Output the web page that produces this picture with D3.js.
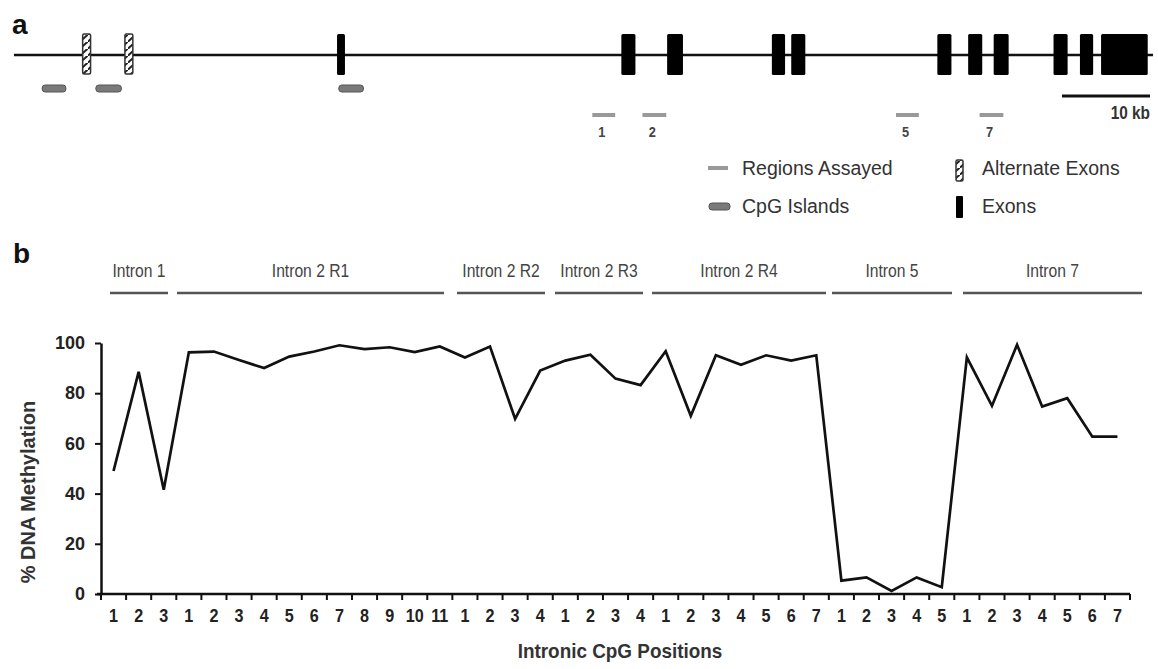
<!DOCTYPE html>
<html>
<head>
<meta charset="utf-8">
<script src="https://cdn.jsdelivr.net/npm/d3@7"></script>
<style>
  html, body { margin: 0; padding: 0; background: #fff; }
  svg { display: block; }
</style>
</head>
<body>
<svg id="chart" width="1158" height="669"></svg>
<script>
// ---------- DATA ----------
// Panel a: gene structure, genomic positions in kb from the left end of the gene line
const geneLength = 129.4;
const alternateExons = [[7.8, 8.7], [12.6, 13.5]];
const exons = [[36.7, 37.6], [69.0, 70.6], [74.2, 76.0], [86.1, 87.6], [88.3, 89.9],
               [104.9, 106.5], [108.4, 110.0], [111.3, 113.0], [118.1, 119.7],
               [121.1, 122.6], [123.5, 128.8]];
const cpgIslands = [[3.2, 5.9], [9.3, 12.2], [36.9, 39.7]];
const regionsAssayed = [[65.7, 68.3], [71.4, 74.1], [100.2, 102.8], [109.7, 112.4]];
const regionLabels = ["1", "2", "5", "7"];
const scaleBarKb = 10;
const scaleBarLabel = "10 kb";
const legendItems = ["Regions Assayed", "CpG Islands", "Alternate Exons", "Exons"];

// Panel b: methylation per intronic CpG position
const groupNames = ["Intron 1", "Intron 2 R1", "Intron 2 R2", "Intron 2 R3", "Intron 2 R4", "Intron 5", "Intron 7"];
const groupSizes = [3, 11, 4, 4, 7, 5, 7];
const tickLabels = ["1","2","3",
                    "1","2","3","4","5","6","7","8","9","10","11",
                    "1","2","3","4",
                    "1","2","3","4",
                    "1","2","3","4","5","6","7",
                    "1","2","3","4","5",
                    "1","2","3","4","5","6","7"];
const methylation = [49, 88.5, 41.5,
                     96.3, 96.6, 93.2, 90, 94.6, 96.6, 99.1, 97.6, 98.3, 96.4, 98.6,
                     94.2, 98.6, 69.8, 89,
                     93, 95.3, 85.8, 83.2,
                     96.7, 71, 95.1, 91.3, 95.1, 93, 95.1,
                     5.3, 6.6, 1.2, 6.6, 2.7,
                     94.3, 75, 99.3, 74.7, 78, 62.7, 62.7];
const yTicks = [0, 20, 40, 60, 80, 100];
const yTitle = "% DNA Methylation";
const xTitle = "Intronic CpG Positions";

// ---------- LAYOUT ----------
const headerSpans = [[110, 168], [177, 444], [457, 545], [555, 643], [652, 826], [832, 952], [963, 1142]];
const sans = "'Liberation Sans', Arial, sans-serif";

const svg = d3.select("#chart");
const defs = svg.append("defs");
const pat = defs.append("pattern")
  .attr("id", "hatch").attr("patternUnits", "userSpaceOnUse")
  .attr("width", 8).attr("height", 7);
pat.append("rect").attr("width", 8).attr("height", 7).attr("fill", "#fff");
pat.append("path").attr("d", "M-1,7.5 L9,-1.5").attr("stroke", "#222").attr("stroke-width", 2);

// ---------- PANEL A ----------
const gx = d3.scaleLinear().domain([0, geneLength]).range([14, 1153]);
const lineY = 55;
const a = svg.append("g");
a.append("text").attr("x", 12).attr("y", 34).text("a")
  .attr("font-family", sans).attr("font-weight", "bold").attr("font-size", 28).attr("fill", "#111");

a.append("line").attr("x1", gx(0)).attr("x2", gx(geneLength)).attr("y1", lineY).attr("y2", lineY)
  .attr("stroke", "#111").attr("stroke-width", 2.5);

a.selectAll("rect.alt").data(alternateExons).join("rect").attr("class", "alt")
  .attr("x", d => gx(d[0])).attr("width", d => gx(d[1]) - gx(d[0]))
  .attr("y", 34).attr("height", 40).attr("rx", 1.5)
  .attr("fill", "url(#hatch)").attr("stroke", "#333").attr("stroke-width", 1.5);

a.selectAll("rect.exon").data(exons).join("rect").attr("class", "exon")
  .attr("x", d => gx(d[0])).attr("width", d => gx(d[1]) - gx(d[0]))
  .attr("y", 34).attr("height", 41).attr("rx", 1.5).attr("fill", "#000");

a.selectAll("rect.cpg").data(cpgIslands).join("rect").attr("class", "cpg")
  .attr("x", d => gx(d[0])).attr("width", d => gx(d[1]) - gx(d[0]))
  .attr("y", 85).attr("height", 7).attr("rx", 3)
  .attr("fill", "#7a7a7a").attr("stroke", "#555").attr("stroke-width", 1);

a.selectAll("line.reg").data(regionsAssayed).join("line").attr("class", "reg")
  .attr("x1", d => gx(d[0])).attr("x2", d => gx(d[1])).attr("y1", 115).attr("y2", 115)
  .attr("stroke", "#999").attr("stroke-width", 4);

a.selectAll("text.reglab").data(regionsAssayed).join("text").attr("class", "reglab")
  .attr("transform", d => `translate(${gx((d[0] + d[1]) / 2) - 2},137) scale(0.85,1)`)
  .attr("text-anchor", "middle")
  .text((d, i) => regionLabels[i])
  .attr("font-family", sans).attr("font-weight", "bold").attr("font-size", 15).attr("fill", "#444");

const sbEnd = gx(geneLength) - 3;
const sbStart = sbEnd - (gx(scaleBarKb) - gx(0));
a.append("line").attr("x1", sbStart).attr("x2", sbEnd).attr("y1", 96).attr("y2", 96)
  .attr("stroke", "#111").attr("stroke-width", 3);
a.append("text").attr("transform", `translate(${sbEnd},119) scale(0.88,1)`)
  .attr("text-anchor", "end").text(scaleBarLabel)
  .attr("font-family", sans).attr("font-weight", "bold").attr("font-size", 17.5).attr("fill", "#333");

// legend
const lg = svg.append("g").attr("font-family", sans).attr("font-size", 19.5).attr("fill", "#333");
// Regions Assayed
lg.append("line").attr("x1", 708).attr("x2", 728).attr("y1", 168).attr("y2", 168)
  .attr("stroke", "#999").attr("stroke-width", 4);
lg.append("text").attr("x", 742).attr("y", 175).text(legendItems[0]);
// CpG Islands
lg.append("rect").attr("x", 709).attr("y", 203).attr("width", 21).attr("height", 7).attr("rx", 3)
  .attr("fill", "#7a7a7a").attr("stroke", "#555");
lg.append("text").attr("x", 742).attr("y", 213).text(legendItems[1]);
// Alternate Exons
lg.append("rect").attr("x", 956).attr("y", 160).attr("width", 7).attr("height", 21).attr("rx", 1.5)
  .attr("fill", "url(#hatch)").attr("stroke", "#333").attr("stroke-width", 1.5);
lg.append("text").attr("x", 982).attr("y", 175).text(legendItems[2]);
// Exons
lg.append("rect").attr("x", 956).attr("y", 196).attr("width", 7).attr("height", 22).attr("rx", 1)
  .attr("fill", "#000");
lg.append("text").attr("x", 982).attr("y", 213).text(legendItems[3]);

// ---------- PANEL B ----------
svg.append("text").attr("x", 13).attr("y", 263).text("b")
  .attr("font-family", sans).attr("font-weight", "bold").attr("font-size", 28).attr("fill", "#111");

const idx = d3.range(methylation.length);
const x = d3.scaleBand().domain(idx).range([101, 1130]);
const y = d3.scaleLinear().domain([0, 100]).range([594, 343]);

const b = svg.append("g");

// headers
const hdr = b.selectAll("g.hdr").data(groupNames).join("g").attr("class", "hdr");
hdr.append("line")
  .attr("x1", (d, i) => headerSpans[i][0]).attr("x2", (d, i) => headerSpans[i][1])
  .attr("y1", 293).attr("y2", 293).attr("stroke", "#555").attr("stroke-width", 2.5);
hdr.append("text")
  .attr("transform", (d, i) => `translate(${(headerSpans[i][0] + headerSpans[i][1]) / 2},277) scale(0.87,1)`)
  .attr("text-anchor", "middle").text(d => d)
  .attr("font-family", sans).attr("font-size", 18).attr("fill", "#444");

// y axis
const yAxis = d3.axisLeft(y).tickValues(yTicks).tickSize(6).tickSizeOuter(0).tickPadding(10);
const ya = b.append("g").attr("transform", "translate(101,0)").call(yAxis);
ya.select(".domain").attr("stroke", "#111").attr("stroke-width", 2.5);
ya.selectAll(".tick line").attr("stroke", "#111").attr("stroke-width", 2);
ya.selectAll(".tick text").attr("font-family", sans).attr("font-weight", "bold")
  .attr("font-size", 18).attr("fill", "#222");

// x axis
const xAxis = d3.axisBottom(x).tickFormat(i => tickLabels[i]).tickSize(0).tickPadding(15);
const xa = b.append("g").attr("transform", "translate(0,594)").call(xAxis);
xa.select(".domain").attr("d", "M97,0H1130").attr("stroke", "#111").attr("stroke-width", 2.5);
xa.selectAll(".tick text").attr("font-family", sans).attr("font-weight", "bold")
  .attr("font-size", 19).attr("fill", "#222")
  .attr("transform", "scale(0.85,1)");
// tick marks at band boundaries
const bounds = d3.range(methylation.length + 1);
xa.selectAll("line.bt").data(bounds).join("line").attr("class", "bt")
  .attr("x1", i => x.range()[0] + i * x.step()).attr("x2", i => x.range()[0] + i * x.step())
  .attr("y1", 0).attr("y2", 6).attr("stroke", "#111").attr("stroke-width", 2);

// line
const line = d3.line().x((d, i) => x(i) + x.bandwidth() / 2).y(d => y(d));
b.append("path").datum(methylation).attr("d", line)
  .attr("fill", "none").attr("stroke", "#111").attr("stroke-width", 2.7).attr("stroke-linejoin", "miter");

// axis titles
b.append("text").attr("transform", "translate(35,492) rotate(-90)").attr("text-anchor", "middle")
  .text(yTitle).attr("font-family", sans).attr("font-weight", "bold").attr("font-size", 20).attr("fill", "#333");
b.append("text").attr("transform", "translate(620,658) scale(0.9,1)").attr("text-anchor", "middle")
  .text(xTitle).attr("font-family", sans).attr("font-weight", "bold").attr("font-size", 21).attr("fill", "#333");
</script>
</body>
</html>
